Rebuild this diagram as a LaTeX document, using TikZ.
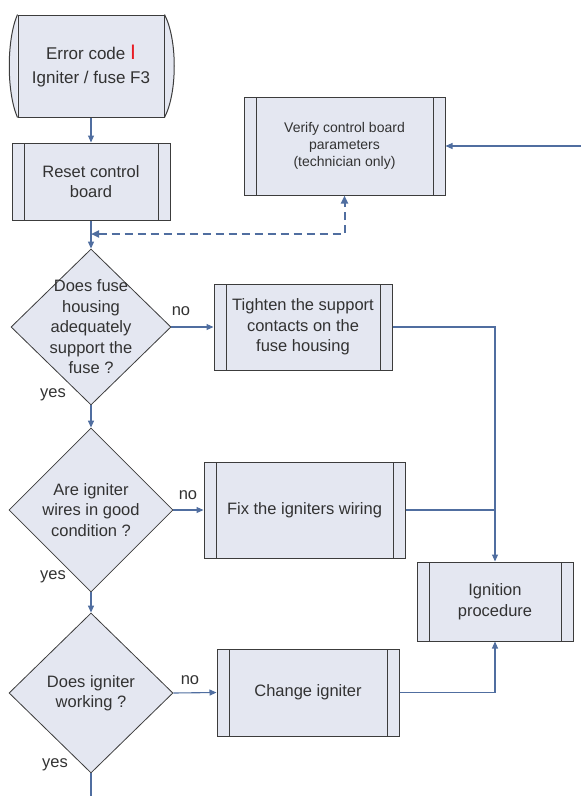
\documentclass[tikz,border=0pt]{standalone}
\usepackage{fontspec}
\setmainfont{Liberation Sans}
\usetikzlibrary{arrows.meta,positioning,shapes.geometric,backgrounds,calc}
\definecolor{boxfill}{RGB}{228,231,241}
\definecolor{edgegray}{RGB}{60,60,60}
\definecolor{flowblue}{RGB}{80,110,160}
\definecolor{txtgray}{RGB}{50,50,50}
\definecolor{errred}{RGB}{232,28,36}

\begin{document}
\begin{tikzpicture}[x=1pt,y=-1pt,
  font=\fontsize{16.5}{20.5}\selectfont,
  every node/.style={text=txtgray},
  procbox/.style={rectangle,draw=edgegray,line width=1pt,fill=boxfill,align=center,inner sep=0pt,
    path picture={\draw[edgegray,line width=1pt]
      ([xshift=12pt]path picture bounding box.north west) -- ([xshift=12pt]path picture bounding box.south west)
      ([xshift=-12pt]path picture bounding box.north east) -- ([xshift=-12pt]path picture bounding box.south east);}},
  decision/.style={diamond,draw=edgegray,line width=0.8pt,fill=boxfill,inner sep=0pt},
  qtext/.style={align=center,text=txtgray},
  lbl/.style={inner sep=0pt},
  flow/.style={draw=flowblue,line width=1.1pt},
  arr/.style={flow,-{Triangle[length=7pt,width=6pt]}},
  dashflow/.style={draw=flowblue,line width=2pt,dash pattern=on 8pt off 5pt,
    {Triangle[length=8pt,width=7pt]}-{Triangle[length=8pt,width=7pt]}}]
\useasboundingbox (0,0) rectangle (581,796);
% start terminal
\node[rectangle,draw=edgegray,line width=1pt,fill=boxfill,align=center,minimum width=146pt,minimum height=102pt,
  font=\fontsize{17}{24}\selectfont] (start) at (91,66)
  {Error code {\color{errred}\fontsize{21}{21}\selectfont I}\\Igniter / fuse F3};
\begin{scope}[on background layer]
  \draw[edgegray,line width=1pt,fill=boxfill] (start.north west) .. controls +(-11,25) and +(-11,-25) .. (start.south west);
  \draw[edgegray,line width=1pt,fill=boxfill] (start.north east) .. controls +(13,25) and +(13,-25) .. (start.south east);
\end{scope}
% process boxes
\node[procbox,minimum width=158pt,minimum height=77pt] (reset) at (91,181.5) {Reset control\\board};
\node[procbox,minimum width=201pt,minimum height=98pt,font=\fontsize{14}{17}\selectfont] (verify) at (344.5,146)
  {Verify control board\\parameters\\(technician only)};
\node[procbox,minimum width=178pt,minimum height=86pt] (tighten) at (303,327) {Tighten the support\\contacts on the\\fuse housing};
\node[procbox,minimum width=201pt,minimum height=96pt] (fix) at (304.5,510) {Fix the igniters wiring};
\node[procbox,minimum width=156pt,minimum height=79pt] (ign) at (495,601.5) {Ignition\\procedure};
\node[procbox,minimum width=182pt,minimum height=87pt] (change) at (308,692.5) {Change igniter};
% decisions
\node[decision,minimum width=160pt,minimum height=156pt,
  label={[qtext]center:Does fuse\\housing\\adequately\\support the\\fuse ?}] (fuseq) at (91,327) {};
\node[decision,minimum width=164pt,minimum height=164pt,
  label={[qtext]center:Are igniter\\wires in good\\condition ?}] (wireq) at (91,510) {};
\node[decision,minimum width=164pt,minimum height=160pt,
  label={[qtext]center:Does igniter\\working ?}] (workq) at (91,693) {};
% branch labels
\node[lbl] (no1) at (181,311) {no};
\node[lbl] (no2) at (188,495) {no};
\node[lbl] (no3) at (190,680) {no};
\node[lbl] (yes1) at (53,395) {yes};
\node[lbl] (yes2) at (53,577) {yes};
\node[lbl] (yes3) at (55,765) {yes};
% free ends
\coordinate (dj) at (91,234);
\coordinate (feed) at (581,146);
\coordinate (tail) at (91,796);
% connectors
\draw[arr] (start) -- (reset);
\draw[arr] (reset) -- (fuseq);
\draw[dashflow] (dj) -| (verify.south);
\draw[arr] (feed) -- (verify.east);
\draw[arr] (fuseq.east) -- (tighten.west);
\draw[arr] (fuseq.south) -- (wireq.north);
\draw[arr] (wireq.east) -- (fix.west);
\draw[arr] (wireq.south) -- (workq.north);
\draw[arr] (workq.east) -- (change.west);
\draw[flow] (workq.south) -- (tail);
\draw[arr] (tighten.east) -| (ign.north);
\draw[flow] (fix.east) -- (fix.east -| ign.north);
\draw[arr] (change.east) -| (ign.south);
\end{tikzpicture}
\end{document}
